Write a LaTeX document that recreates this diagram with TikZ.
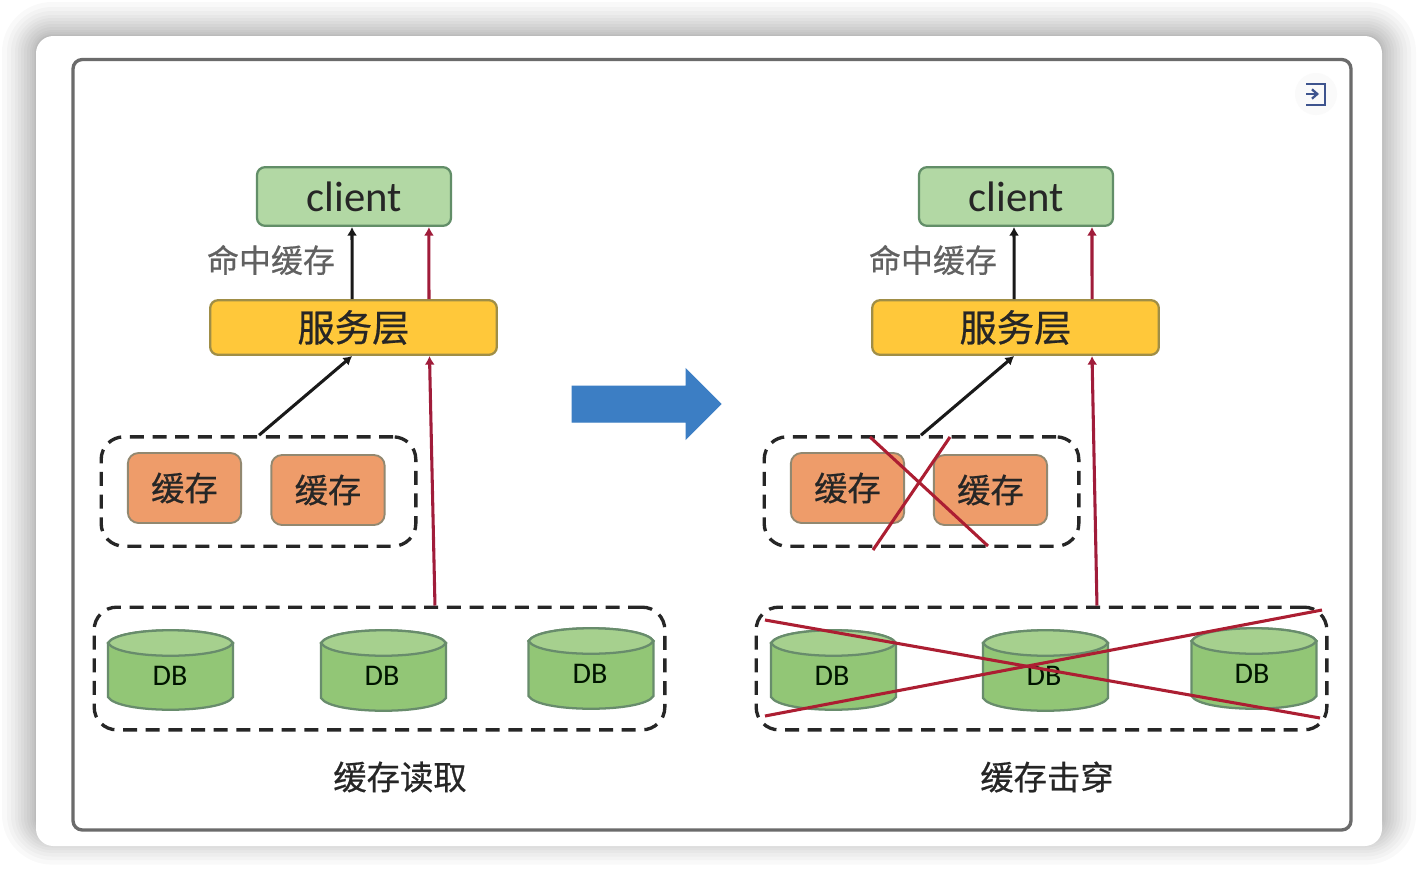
\documentclass[tikz,border=0pt]{standalone}
\usepackage{fontspec}
\setmainfont{Carlito}
\newfontfamily\cjk{Noto Sans CJK SC}
\newfontfamily\cjkheavy[FakeBold=0.6]{Noto Sans CJK SC}
\usepackage{tikz}
\usetikzlibrary{arrows.meta}
\definecolor{clientgreen}{RGB}{178,216,164}
\definecolor{clientedge}{RGB}{98,142,104}
\definecolor{svcyellow}{RGB}{255,200,58}
\definecolor{svcedge}{RGB}{160,142,70}
\definecolor{cacheorange}{RGB}{238,156,106}
\definecolor{cacheedge}{RGB}{146,136,112}
\definecolor{dbgreen}{RGB}{146,198,118}
\definecolor{dbtop}{RGB}{166,208,142}
\definecolor{dbedge}{RGB}{104,140,108}
\definecolor{hitred}{RGB}{160,28,58}
\definecolor{crossred}{RGB}{172,30,50}
\definecolor{arrowblue}{RGB}{60,126,196}
\definecolor{iconblue}{RGB}{62,84,142}
\tikzset{every picture/.style={line width=0.75pt}}
\tikzset{
  clientbox/.style={draw=clientedge,fill=clientgreen,line width=1.7pt,rounded corners=6pt,
    minimum width=145.5pt,minimum height=44pt,inner sep=0pt,text=black!85,font=\fontsize{32}{32}\selectfont},
  svcbox/.style={draw=svcedge,fill=svcyellow,line width=1.7pt,rounded corners=6pt,
    minimum width=215pt,minimum height=41pt,inner sep=0pt,text=black!85,font=\cjkheavy\fontsize{28}{28}\selectfont},
  cachebox/.style={draw=cacheedge,fill=cacheorange,line width=1.4pt,rounded corners=8pt,
    minimum width=85pt,minimum height=52.5pt,inner sep=0pt,text=black!85,font=\cjkheavy\fontsize{25}{25}\selectfont},
  dashcache/.style={draw=black!85,dash pattern=on 10.5pt off 6.5pt,line width=2.5pt,rounded corners=17pt,
    minimum width=236pt,minimum height=82pt,inner sep=0pt},
  dashdb/.style={draw=black!85,dash pattern=on 10.5pt off 6.5pt,line width=2.5pt,rounded corners=17pt,
    minimum width=428pt,minimum height=92pt,inner sep=0pt},
  dbtext/.style={inner sep=0pt,text=black!80!green!40!black,font=\fontsize{22.5}{22.5}\selectfont},
  hittext/.style={inner sep=0pt,text=black!62,font=\cjkheavy\fontsize{24}{24}\selectfont},
  titletext/.style={inner sep=0pt,text=black!85,font=\cjkheavy\fontsize{25}{25}\selectfont},
  blackline/.style={draw=black!90,line width=2.3pt,-{Latex[length=6.5pt,width=7.5pt]}},
  redline/.style={draw=hitred,line width=2.3pt,-{Latex[length=6.5pt,width=7.5pt]}},
  crossline/.style={draw=crossred,line width=2.3pt},
}
% one db drum: left x, top y, bottom y, name
\newcommand{\dbdrum}[4]{
  \draw [draw=dbedge,fill=dbgreen,line width=1.7pt] (#1,#2+13) -- (#1,#3-13)
    .. controls (#1+10,#3+4) and (#1+115,#3+4) .. (#1+125,#3-13) -- (#1+125,#2+13)
    .. controls (#1+115,#2-4) and (#1+10,#2-4) .. (#1,#2+13) -- cycle;
  \draw [draw=dbedge,fill=dbtop,line width=1.7pt] (#1,#2+13)
    .. controls (#1+10,#2-4) and (#1+115,#2-4) .. (#1+125,#2+13)
    .. controls (#1+115,#2+30) and (#1+10,#2+30) .. (#1,#2+13) -- cycle;
  \coordinate (#4) at (#1+62.5,#2+40);
}
\begin{document}
\begin{tikzpicture}[x=0.75pt,y=0.75pt,yscale=-1,xscale=1]
      \useasboundingbox (0,0) rectangle (1418,882);
      \fill [white] (0,0) rectangle (1418,882);
      % soft shadow round the card
      \foreach \s in {1,2,4,6,9,12,15,18,21,25,29,34}
        \fill [black,opacity=0.024,rounded corners={(16+\s)*0.75pt}] (36-\s,36-\s) rectangle (1382+\s,846+\s*0.9-12);
      \fill [white,rounded corners=13pt] (36,36) rectangle (1382,846);
      \draw [black!58,line width=2.5pt,rounded corners=7pt] (73,59.5) rectangle (1351,830);

      % icon
      \fill [black!2] (1316,94) circle (21);
      \draw [iconblue,line width=1.7pt] (1306,84) -- (1325,84) -- (1325,105) -- (1306,105);
      \draw [iconblue,line width=1.7pt,-{Straight Barb[length=4pt,width=7pt]}] (1306,94) -- (1319,94);

      % left column
      \node [clientbox] (clientL) at (354,196.5) {client};
      \node [svcbox] (svcL) at (353.5,327.5) {服务层};
      \node [dashcache] (cacheL) at (258.5,491.5) {};
      \node [cachebox] (cacheLa) at (184.5,488) {缓存};
      \node [cachebox] (cacheLb) at (328,490) {缓存};
      \node [dashdb] (dbL) at (379.5,668.5) {};
      \dbdrum{108}{630}{710}{drumLa}
      \dbdrum{321}{630}{711}{drumLb}
      \dbdrum{528.5}{628}{709}{drumLc}
      \node [dbtext] (dbLa) at (170,676) {DB};
      \node [dbtext] (dbLb) at (382,676) {DB};
      \node [dbtext] (dbLc) at (590,674) {DB};
      \node [hittext] (hitL) at (271,260) {命中缓存};
      \node [titletext] (titleL) at (400,777) {缓存读取};
      \draw [blackline] ([xshift=-1pt]svcL.north) -- ([xshift=-1.5pt]clientL.south);
      \draw [redline] ([xshift=56.6pt]svcL.north) -- ([xshift=56.2pt]clientL.south);
      \draw [blackline] ([xshift=0.4pt]cacheL.north) -- ([xshift=-1pt]svcL.south);
      \draw [redline] ([xshift=41.6pt]dbL.north) -- ([xshift=57pt]svcL.south);

      \draw [arrowblue,fill=arrowblue] (572,386) -- (686,386) -- (686,369) -- (721,404) -- (686,439) -- (686,422) -- (572,422) -- cycle;

      % right column
      \node [clientbox] (clientR) at (1016,196.5) {client};
      \node [svcbox] (svcR) at (1015.5,327.5) {服务层};
      \node [dashcache] (cacheR) at (921.5,491.5) {};
      \node [cachebox] (cacheRa) at (847.5,488) {缓存};
      \node [cachebox] (cacheRb) at (990.5,490) {缓存};
      \node [dashdb] (dbR) at (1041.5,668.5) {};
      \dbdrum{771}{630}{710}{drumRa}
      \dbdrum{983}{630}{711}{drumRb}
      \dbdrum{1191.5}{628}{709}{drumRc}
      \node [dbtext] (dbRa) at (832,676) {DB};
      \node [dbtext] (dbRb) at (1044,676) {DB};
      \node [dbtext] (dbRc) at (1252,674) {DB};
      \node [hittext] (hitR) at (933,260) {命中缓存};
      \node [titletext] (titleR) at (1047,777) {缓存击穿};
      \draw [blackline] ([xshift=-1pt]svcR.north) -- ([xshift=-1.5pt]clientR.south);
      \draw [redline] ([xshift=57.4pt]svcR.north) -- ([xshift=57pt]clientR.south);
      \draw [blackline] ([xshift=-0.4pt]cacheR.north) -- ([xshift=-1pt]svcR.south);
      \draw [redline] ([xshift=41.6pt]dbR.north) -- ([xshift=57.4pt]svcR.south);

      % crossed out
      \coordinate (crossA) at (870,437);
      \coordinate (crossB) at (988,546);
      \coordinate (crossC) at (950,437);
      \coordinate (crossD) at (873,550);
      \coordinate (crossE) at (765,620);
      \coordinate (crossF) at (1320,718);
      \coordinate (crossG) at (765,716);
      \coordinate (crossH) at (1322,610);
      \draw [crossline] (crossA) -- (crossB);
      \draw [crossline] (crossC) -- (crossD);
      \draw [crossline] (crossE) -- (crossF);
      \draw [crossline] (crossG) -- (crossH);
\end{tikzpicture}
\end{document}
